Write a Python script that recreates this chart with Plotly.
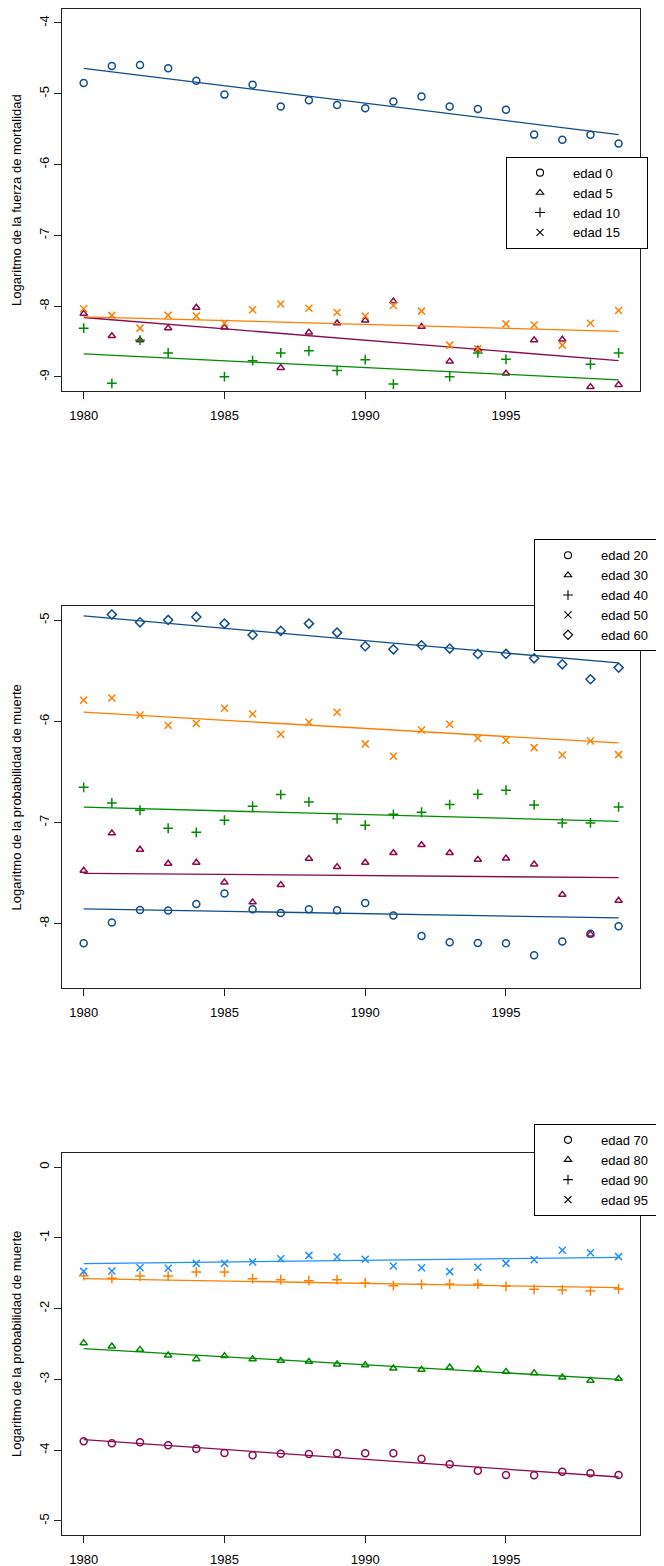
import plotly.graph_objects as go

years = list(range(1980, 2000))
trend_years = [1980, 1999]

# ---------------- Panel 1: log force of mortality, ages 0-15 ----------------
edad0 = [-4.847, -4.607, -4.593, -4.640, -4.815, -5.012, -4.871, -5.180, -5.090, -5.160,
         -5.205, -5.110, -5.040, -5.180, -5.215, -5.224, -5.577, -5.648, -5.580, -5.704]
edad5 = [-8.105, -8.420, -8.480, -8.310, -8.020, -8.300, None, -8.870, -8.370, -8.240,
         -8.200, -7.930, -8.290, -8.780, -8.610, -8.950, -8.480, -8.470, -9.140, -9.110]
edad10 = [-8.310, -9.090, -8.480, -8.660, None, -8.995, -8.770, -8.660, -8.630, -8.910,
          -8.755, -9.100, None, -8.995, -8.660, -8.750, None, None, -8.820, -8.660]
edad15 = [-8.035, -8.130, -8.310, -8.130, -8.140, -8.240, -8.050, -7.970, -8.030, -8.090,
          -8.140, -7.990, -8.070, -8.550, -8.600, -8.250, -8.265, -8.550, -8.240, -8.060]
trend0 = [-4.640, -5.577]
trend5 = [-8.160, -8.770]
trend10 = [-8.675, -9.040]
trend15 = [-8.150, -8.355]

# ---------------- Panel 2: log probability of death, ages 20-60 ----------------
edad20 = [-8.193, -7.988, -7.863, -7.870, -7.804, -7.702, -7.857, -7.893, -7.857, -7.866,
          -7.794, -7.919, -8.120, -8.183, -8.190, -8.193, -8.311, -8.176, -8.100, -8.024]
edad30 = [-7.474, -7.105, -7.267, -7.405, -7.395, -7.590, -7.787, -7.616, -7.356, -7.438,
          -7.395, -7.300, -7.221, -7.300, -7.366, -7.353, -7.412, -7.712, -8.104, -7.771]
edad40 = [-6.651, -6.806, -6.878, -7.056, -7.096, -6.977, -6.839, -6.723, -6.796, -6.964,
          -7.026, -6.918, -6.898, -6.822, -6.720, -6.680, -6.825, -7.003, -7.003, -6.845]
edad50 = [-5.791, -5.768, -5.936, -6.038, -6.021, -5.870, -5.926, -6.127, -6.008, -5.909,
          -6.222, -6.344, -6.084, -6.028, -6.166, -6.186, -6.259, -6.331, -6.193, -6.328]
edad60 = [None, -4.944, -5.020, -4.997, -4.967, -5.033, -5.145, -5.105, -5.033, -5.122,
          -5.257, -5.287, -5.247, -5.280, -5.333, -5.333, -5.376, -5.435, -5.583, -5.468]
trend20 = [-7.853, -7.942]
trend30 = [-7.501, -7.544]
trend40 = [-6.848, -6.987]
trend50 = [-5.909, -6.213]
trend60 = [-4.957, -5.422]

# ---------------- Panel 3: log probability of death, ages 70-95 ----------------
edad70 = [-3.875, -3.903, -3.889, -3.931, -3.978, -4.040, -4.072, -4.049, -4.054, -4.044,
          -4.044, -4.044, -4.120, -4.200, -4.289, -4.350, -4.355, -4.303, -4.327, -4.350]
edad80 = [-2.486, -2.533, -2.580, -2.660, -2.712, -2.669, -2.712, -2.735, -2.749, -2.787,
          -2.797, -2.844, -2.862, -2.830, -2.858, -2.891, -2.910, -2.971, -3.018, -2.990]
edad90 = [-1.535, -1.572, -1.540, -1.540, -1.483, -1.483, -1.577, -1.591, -1.605, -1.591,
          -1.638, -1.676, -1.657, -1.653, -1.653, -1.686, -1.728, -1.737, -1.751, -1.723]
edad95 = [-1.474, -1.469, -1.422, -1.431, -1.361, -1.361, -1.342, -1.295, -1.248, -1.271,
          -1.304, -1.398, -1.422, -1.478, -1.417, -1.361, -1.309, -1.177, -1.210, -1.266]
trend70 = [-3.851, -4.379]
trend80 = [-2.566, -2.999]
trend90 = [-1.577, -1.704]
trend95 = [-1.365, -1.276]

xtick_vals = [1980, 1985, 1990, 1995]
xtick_text = ["1980", "1985", "1990", "1995"]
ytick_vals1 = [-9, -8, -7, -6, -5, -4]
ytick_text1 = ["-9", "-8", "-7", "-6", "-5", "-4"]
ytick_vals2 = [-8, -7, -6, -5]
ytick_text2 = ["-8", "-7", "-6", "-5"]
ytick_vals3 = [-5, -4, -3, -2, -1, 0]
ytick_text3 = ["-5", "-4", "-3", "-2", "-1", "0"]

ytitle1 = "Logaritmo de la fuerza de mortalidad"
ytitle2 = "Logaritmo de la probabilidad de muerte"

BLUE = "#104E8B"
MAROON = "#8B0A50"
GREEN = "#008B00"
ORANGE = "#FF7F00"
LBLUE = "#1E90FF"

SYM = {"o": ("circle-open", 7), "t": ("triangle-up-open", 6.5), "p": ("cross-thin-open", 7),
       "x": ("x-thin-open", 7), "d": ("diamond-open", 7)}

XRANGE = [1979.24, 1999.76]
YR1 = [-9.198, -3.807]
YR2 = [-8.638, -4.862]
YR3 = [-5.198, 0.202]

panels = [
    dict(ax="", leg="legend", yr=YR1, pad=6, series=[
        ("edad 0", edad0, trend0, BLUE, "o"), ("edad 5", edad5, trend5, MAROON, "t"),
        ("edad 10", edad10, trend10, GREEN, "p"), ("edad 15", edad15, trend15, ORANGE, "x")]),
    dict(ax="2", leg="legend2", yr=YR2, pad=3, series=[
        ("edad 20", edad20, trend20, BLUE, "o"), ("edad 30", edad30, trend30, MAROON, "t"),
        ("edad 40", edad40, trend40, GREEN, "p"), ("edad 50", edad50, trend50, ORANGE, "x"),
        ("edad 60", edad60, trend60, BLUE, "d")]),
    dict(ax="3", leg="legend3", yr=YR3, pad=3, series=[
        ("edad 70", edad70, trend70, MAROON, "o"), ("edad 80", edad80, trend80, GREEN, "t"),
        ("edad 90", edad90, trend90, ORANGE, "p"), ("edad 95", edad95, trend95, LBLUE, "x")]),
]

fig = go.Figure()

for p in panels:
    xa, ya = "x" + p["ax"], "y" + p["ax"]
    nb = "\u00a0" * p["pad"]
    for name, vals, trend, col, s in p["series"]:
        sym, sz = SYM[s]
        fig.add_trace(go.Scatter(x=trend_years, y=trend, mode="lines", xaxis=xa, yaxis=ya,
                                 line=dict(color=col, width=1.3), showlegend=False,
                                 hoverinfo="skip"))
        fig.add_trace(go.Scatter(x=years, y=vals, mode="markers", xaxis=xa, yaxis=ya,
                                 name=name, showlegend=False,
                                 marker=dict(symbol=sym, size=sz, color=col,
                                             line=dict(color=col, width=1.5))))
    for name, vals, trend, col, s in p["series"]:
        sym, sz = SYM[s]
        fig.add_trace(go.Scatter(x=[None], y=[None], mode="markers", xaxis=xa, yaxis=ya,
                                 name=name + nb, legend=p["leg"], showlegend=True,
                                 marker=dict(symbol=sym, size=sz, color="black",
                                             line=dict(color="black", width=1.1))))

# page has an 8px body margin; figure is sized to fit the 664x1566 window
W, H, OFF = 656, 1558, 8


def px_x(X):
    return (X - OFF) / W


def px_y(Y):
    return 1 - (Y - OFF) / H


FONT = dict(family="Liberation Sans, Arial, sans-serif", size=13, color="black")
xdom = [px_x(62.3), px_x(640)]
ydoms = [[px_y(391), px_y(9.3)], [px_y(988.3), px_y(606.3)], [px_y(1535), px_y(1152.7)]]

axis_common = dict(showline=True, linecolor="#222", linewidth=1, mirror=True,
                   ticks="outside", ticklen=7, tickwidth=1, tickcolor="#222",
                   showgrid=False, zeroline=False, tickfont=FONT)

layout = dict(width=W, height=H, paper_bgcolor="white", plot_bgcolor="white",
              margin=dict(l=0, r=0, t=0, b=0, autoexpand=False), font=FONT)

ytick_sets = [(ytick_vals1, ytick_text1, ytitle1), (ytick_vals2, ytick_text2, ytitle2),
              (ytick_vals3, ytick_text3, ytitle2)]
for i, p in enumerate(panels):
    sfx = "" if i == 0 else str(i + 1)
    layout["xaxis" + sfx] = dict(axis_common, domain=xdom, range=XRANGE, anchor="y" + sfx,
                                 tickmode="array", tickvals=xtick_vals, ticktext=xtick_text,
                                 ticklabelstandoff=5)
    tv, tt, title = ytick_sets[i]
    layout["yaxis" + sfx] = dict(axis_common, domain=ydoms[i], range=p["yr"], anchor="x" + sfx,
                                 tickmode="array", tickvals=tv, ticktext=tt, tickangle=-90,
                                 title=dict(text=title, font=FONT, standoff=12))

leg_common = dict(bordercolor="black", borderwidth=1, bgcolor="white", font=FONT,
                  itemwidth=56, xanchor="left", yanchor="top", tracegroupgap=0)
layout["legend"] = dict(leg_common, x=px_x(506), y=px_y(156.7))
layout["legend2"] = dict(leg_common, x=px_x(534), y=px_y(539.3))
layout["legend3"] = dict(leg_common, x=px_x(534), y=px_y(1123.9))

fig.update_layout(**layout)
fig.write_html("out.html")
